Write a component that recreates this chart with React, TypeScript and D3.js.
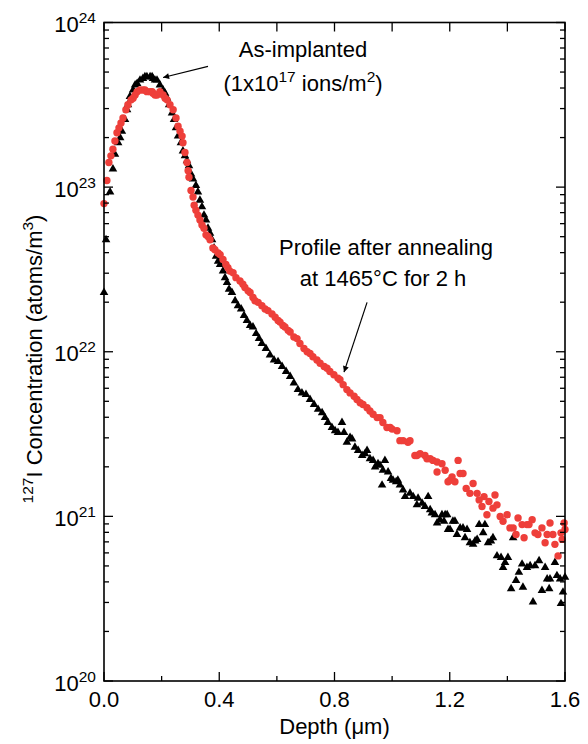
import React from 'react';
import * as d3 from 'd3';

const W = 588;
const H = 744;

// axis ticks
const xMajorTicks = [0, 0.4, 0.8, 1.2, 1.6];
const xMinorTicks = [0.2, 0.6, 1.0, 1.4];
const yDecadeExponents = [20, 21, 22, 23, 24];

// As-implanted profile: depth (µm) and log10 of concentration (atoms/m^3)
const asImplantedDepth = [
  0.000, 0.007, 0.021, 0.031, 0.038, 0.049, 0.056, 0.062, 0.073, 0.080, 0.083, 0.090, 0.101, 0.108, 0.115, 0.125,
  0.135, 0.142, 0.149, 0.160, 0.167, 0.170, 0.177, 0.184, 0.194, 0.205, 0.212, 0.219, 0.226, 0.236, 0.243, 0.250,
  0.257, 0.267, 0.274, 0.281, 0.288, 0.295, 0.302, 0.309, 0.319, 0.326, 0.333, 0.340, 0.347, 0.354, 0.361, 0.368,
  0.375, 0.382, 0.389, 0.396, 0.403, 0.413, 0.420, 0.427, 0.434, 0.444, 0.455, 0.465, 0.476, 0.486, 0.496, 0.507,
  0.517, 0.528, 0.538, 0.548, 0.562, 0.576, 0.590, 0.604, 0.618, 0.632, 0.646, 0.659, 0.673, 0.687, 0.701, 0.715,
  0.729, 0.743, 0.757, 0.767, 0.777, 0.791, 0.802, 0.812, 0.826, 0.833, 0.843, 0.854, 0.861, 0.871, 0.882, 0.896,
  0.906, 0.913, 0.923, 0.934, 0.941, 0.951, 0.958, 0.965, 0.968, 0.975, 0.986, 0.996, 1.003, 1.014, 1.020, 1.027,
  1.038, 1.045, 1.062, 1.073, 1.086, 1.090, 1.104, 1.114, 1.125, 1.132, 1.138, 1.149, 1.156, 1.166, 1.173, 1.180,
  1.184, 1.191, 1.194, 1.201, 1.211, 1.218, 1.225, 1.236, 1.246, 1.253, 1.260, 1.270, 1.281, 1.288, 1.295, 1.302,
  1.316, 1.322, 1.333, 1.343, 1.350, 1.364, 1.378, 1.385, 1.392, 1.402, 1.413, 1.420, 1.430, 1.440, 1.451, 1.454,
  1.468, 1.479, 1.489, 1.496, 1.510, 1.520, 1.531, 1.538, 1.545, 1.548, 1.565, 1.572, 1.583, 1.586, 1.593, 1.600,
];
const asImplantedLogC = [
  22.36, 22.68, 22.97, 23.11, 23.20, 23.27, 23.30, 23.34, 23.41, 23.47, 23.50, 23.55, 23.59, 23.62, 23.63, 23.65,
  23.66, 23.67, 23.67, 23.67, 23.67, 23.66, 23.65, 23.65, 23.62, 23.59, 23.57, 23.54, 23.50, 23.45, 23.41, 23.36,
  23.31, 23.27, 23.22, 23.19, 23.16, 23.13, 23.08, 23.05, 23.01, 22.97, 22.92, 22.88, 22.83, 22.80, 22.75, 22.72,
  22.68, 22.63, 22.58, 22.55, 22.53, 22.49, 22.45, 22.42, 22.38, 22.36, 22.31, 22.28, 22.26, 22.22, 22.19, 22.16,
  22.15, 22.11, 22.08, 22.05, 22.02, 21.98, 21.95, 21.94, 21.91, 21.88, 21.85, 21.81, 21.77, 21.75, 21.74, 21.71,
  21.68, 21.65, 21.63, 21.60, 21.57, 21.54, 21.52, 21.51, 21.57, 21.51, 21.45, 21.48, 21.47, 21.42, 21.40, 21.37,
  21.38, 21.40, 21.35, 21.34, 21.30, 21.32, 21.31, 21.19, 21.28, 21.34, 21.27, 21.23, 21.22, 21.21, 21.22, 21.19,
  21.16, 21.12, 21.14, 21.12, 21.07, 21.11, 21.08, 21.06, 21.12, 21.04, 21.02, 21.01, 20.96, 20.98, 21.01, 20.97,
  21.01, 21.01, 20.92, 20.92, 20.97, 20.97, 20.89, 20.93, 20.93, 20.87, 20.92, 20.84, 20.83, 20.85, 20.86, 20.95,
  20.90, 20.95, 20.84, 20.85, 20.87, 20.76, 20.75, 20.69, 20.72, 20.75, 20.56, 20.87, 20.61, 20.66, 20.71, 20.57,
  20.69, 20.70, 20.48, 20.70, 20.73, 20.55, 20.69, 20.62, 20.56, 20.62, 20.72, 20.64, 20.62, 20.47, 20.54, 20.63,
];

// Profile after annealing at 1465 °C for 2 h
const annealedDepth = [
  0.000, 0.010, 0.017, 0.024, 0.031, 0.038, 0.045, 0.052, 0.059, 0.066, 0.076, 0.083, 0.094, 0.101, 0.108, 0.115,
  0.125, 0.135, 0.142, 0.149, 0.160, 0.167, 0.170, 0.177, 0.184, 0.194, 0.205, 0.212, 0.219, 0.229, 0.240, 0.250,
  0.257, 0.264, 0.271, 0.274, 0.281, 0.288, 0.292, 0.295, 0.302, 0.309, 0.313, 0.319, 0.326, 0.333, 0.340, 0.347,
  0.354, 0.361, 0.368, 0.378, 0.385, 0.396, 0.403, 0.413, 0.423, 0.430, 0.437, 0.448, 0.458, 0.472, 0.482, 0.489,
  0.500, 0.507, 0.517, 0.524, 0.535, 0.548, 0.559, 0.569, 0.583, 0.594, 0.604, 0.611, 0.621, 0.628, 0.639, 0.646,
  0.659, 0.670, 0.680, 0.694, 0.705, 0.715, 0.725, 0.739, 0.750, 0.764, 0.774, 0.784, 0.798, 0.812, 0.819, 0.830,
  0.843, 0.854, 0.868, 0.878, 0.889, 0.899, 0.913, 0.923, 0.934, 0.948, 0.958, 0.968, 0.982, 0.993, 1.000, 1.017,
  1.027, 1.038, 1.055, 1.062, 1.079, 1.086, 1.097, 1.114, 1.121, 1.132, 1.142, 1.156, 1.156, 1.173, 1.184, 1.194,
  1.201, 1.208, 1.218, 1.229, 1.236, 1.246, 1.257, 1.270, 1.281, 1.295, 1.302, 1.312, 1.319, 1.329, 1.336, 1.350,
  1.357, 1.364, 1.375, 1.385, 1.399, 1.409, 1.420, 1.430, 1.437, 1.451, 1.458, 1.468, 1.475, 1.486, 1.496, 1.506,
  1.520, 1.531, 1.538, 1.548, 1.558, 1.565, 1.576, 1.586, 1.590, 1.597, 1.600,
];
const annealedLogC = [
  22.90, 23.04, 23.15, 23.19, 23.23, 23.28, 23.33, 23.36, 23.39, 23.42, 23.47, 23.50, 23.53, 23.54, 23.56, 23.58,
  23.59, 23.59, 23.59, 23.58, 23.58, 23.58, 23.57, 23.56, 23.56, 23.58, 23.56, 23.54, 23.53, 23.50, 23.47, 23.42,
  23.37, 23.34, 23.31, 23.27, 23.21, 23.15, 23.10, 23.06, 22.98, 22.94, 22.89, 22.86, 22.83, 22.80, 22.77, 22.75,
  22.71, 22.70, 22.68, 22.63, 22.62, 22.60, 22.59, 22.56, 22.53, 22.51, 22.49, 22.48, 22.45, 22.43, 22.41, 22.39,
  22.37, 22.36, 22.33, 22.31, 22.30, 22.28, 22.26, 22.25, 22.23, 22.21, 22.19, 22.18, 22.16, 22.15, 22.13, 22.12,
  22.09, 22.08, 22.05, 22.02, 22.00, 21.99, 21.97, 21.95, 21.93, 21.91, 21.90, 21.88, 21.86, 21.84, 21.83, 21.80,
  21.77, 21.75, 21.73, 21.71, 21.69, 21.68, 21.66, 21.64, 21.62, 21.60, 21.60, 21.57, 21.54, 21.54, 21.53, 21.52,
  21.46, 21.46, 21.45, 21.46, 21.37, 21.37, 21.38, 21.37, 21.35, 21.35, 21.34, 21.33, 21.27, 21.32, 21.28, 21.21,
  21.22, 21.24, 21.21, 21.34, 21.26, 21.26, 21.17, 21.14, 21.20, 21.14, 21.10, 21.06, 21.12, 21.01, 21.09, 21.05,
  21.13, 21.07, 21.00, 20.97, 21.01, 20.93, 20.93, 20.89, 20.99, 20.95, 20.87, 20.95, 20.95, 20.98, 20.90, 20.89,
  20.93, 20.84, 20.89, 20.96, 20.89, 20.83, 20.76, 20.90, 20.86, 20.96, 20.92,
];

const FONT = '"Liberation Sans", Arial, Helvetica, sans-serif';
const RED = '#ee3f3a';
const FS = 22;
const FS_SUP = 15.5;

export default function App() {
  const left = 104;
  const right = 565;
  const top = 22.5;
  const bottom = 681;

  const x = d3.scaleLinear().domain([0, 1.6]).range([left, right]);
  const y = d3.scaleLog().domain([1e20, 1e24]).range([bottom, top]);

  const asImplanted = asImplantedDepth.map((d, i) => ({ d, c: Math.pow(10, asImplantedLogC[i]) }));
  const annealed = annealedDepth.map((d, i) => ({ d, c: Math.pow(10, annealedLogC[i]) }));

  const tri = d3.symbol().type(d3.symbolTriangle).size(32)()!;

  const yMinor: number[] = [];
  for (let k = 20; k < 24; k++) for (let m = 2; m <= 9; m++) yMinor.push(m * Math.pow(10, k));

  const majorLen = 9;
  const minorLen = 5;

  // annotation arrows in data coordinates
  const arrow1 = { x1: 0.361, y1: Math.pow(10, 23.733), x2: 0.205, y2: Math.pow(10, 23.666) };
  const arrow2 = { x1: 0.913, y1: Math.pow(10, 22.30), x2: 0.833, y2: Math.pow(10, 21.876) };

  return (
    <svg width={W} height={H} style={{ position: 'absolute', left: 0, top: 0, background: '#fff' }}
      fontFamily={FONT}>
      <defs>
        <marker id="ah" viewBox="0 0 10 10" refX="10" refY="5" markerWidth="11" markerHeight="6"
          markerUnits="userSpaceOnUse" orient="auto">
          <path d="M0,0 L10,5 L0,10 z" fill="#000" />
        </marker>
      </defs>
      <rect x={0} y={0} width={W} height={H} fill="#fff" />

      {/* data: as-implanted triangles */}
      <g>
        {asImplanted.map((p, i) => (
          <path key={'t' + i} d={tri} transform={`translate(${x(p.d)},${y(p.c)})`} fill="#000" />
        ))}
      </g>
      {/* data: annealed circles */}
      <g>
        {annealed.map((p, i) => (
          <circle key={'c' + i} cx={x(p.d)} cy={y(p.c)} r={3.7} fill={RED} />
        ))}
      </g>

      {/* frame */}
      <rect x={left} y={top} width={right - left} height={bottom - top} fill="none" stroke="#000" strokeWidth={1.6} />

      {/* x ticks bottom & top */}
      {xMajorTicks.map((t) => (
        <g key={'xm' + t}>
          <line x1={x(t)} x2={x(t)} y1={bottom} y2={bottom - majorLen} stroke="#000" strokeWidth={1.3} />
          <line x1={x(t)} x2={x(t)} y1={top} y2={top + majorLen} stroke="#000" strokeWidth={1.3} />
          <text x={x(t)} y={707} textAnchor="middle" fontSize={FS} fill="#000">{t.toFixed(1)}</text>
        </g>
      ))}
      {xMinorTicks.map((t) => (
        <g key={'xn' + t}>
          <line x1={x(t)} x2={x(t)} y1={bottom} y2={bottom - minorLen} stroke="#000" strokeWidth={1.3} />
          <line x1={x(t)} x2={x(t)} y1={top} y2={top + majorLen} stroke="#000" strokeWidth={1.3} />
        </g>
      ))}

      {/* y ticks left & right */}
      {yDecadeExponents.map((e) => {
        const yy = y(Math.pow(10, e));
        return (
          <g key={'yd' + e}>
            <line x1={left} x2={left + majorLen} y1={yy} y2={yy} stroke="#000" strokeWidth={1.3} />
            <line x1={right} x2={right - majorLen} y1={yy} y2={yy} stroke="#000" strokeWidth={1.3} />
            <text x={96} y={yy + 9.5} textAnchor="end" fontSize={FS} fill="#000">
              10<tspan fontSize={FS_SUP} dy={-9}>{e}</tspan>
            </text>
          </g>
        );
      })}
      {yMinor.map((v, i) => (
        <g key={'ym' + i}>
          <line x1={left} x2={left + minorLen} y1={y(v)} y2={y(v)} stroke="#000" strokeWidth={1.3} />
          <line x1={right} x2={right - minorLen} y1={y(v)} y2={y(v)} stroke="#000" strokeWidth={1.3} />
        </g>
      ))}

      {/* axis titles */}
      <text x={(left + right) / 2} y={734} textAnchor="middle" fontSize={FS} fill="#000">Depth (μm)</text>
      <text transform="translate(42,359) rotate(-90)" textAnchor="middle" fontSize={FS} fill="#000">
        <tspan fontSize={FS_SUP} dy={-9}>127</tspan>
        <tspan dy={9}>I Concentration (atoms/m</tspan>
        <tspan fontSize={FS_SUP} dy={-9}>3</tspan>
        <tspan dy={9}>)</tspan>
      </text>

      {/* annotations */}
      <text x={303} y={57} textAnchor="middle" fontSize={FS} fill="#000">As-implanted</text>
      <text x={303} y={91} textAnchor="middle" fontSize={FS} fill="#000">
        (1x10<tspan fontSize={FS_SUP} dy={-9}>17</tspan>
        <tspan dy={9}> ions/m</tspan>
        <tspan fontSize={FS_SUP} dy={-9}>2</tspan>
        <tspan dy={9}>)</tspan>
      </text>
      <line x1={x(arrow1.x1)} y1={y(arrow1.y1)} x2={x(arrow1.x2)} y2={y(arrow1.y2)} stroke="#000"
        strokeWidth={1.2} markerEnd="url(#ah)" />

      <text x={386} y={255} textAnchor="middle" fontSize={FS} fill="#000">Profile after annealing</text>
      <text x={383} y={286} textAnchor="middle" fontSize={FS} fill="#000">at 1465°C for 2 h</text>
      <line x1={x(arrow2.x1)} y1={y(arrow2.y1)} x2={x(arrow2.x2)} y2={y(arrow2.y2)} stroke="#000"
        strokeWidth={1.2} markerEnd="url(#ah)" />
    </svg>
  );
}
